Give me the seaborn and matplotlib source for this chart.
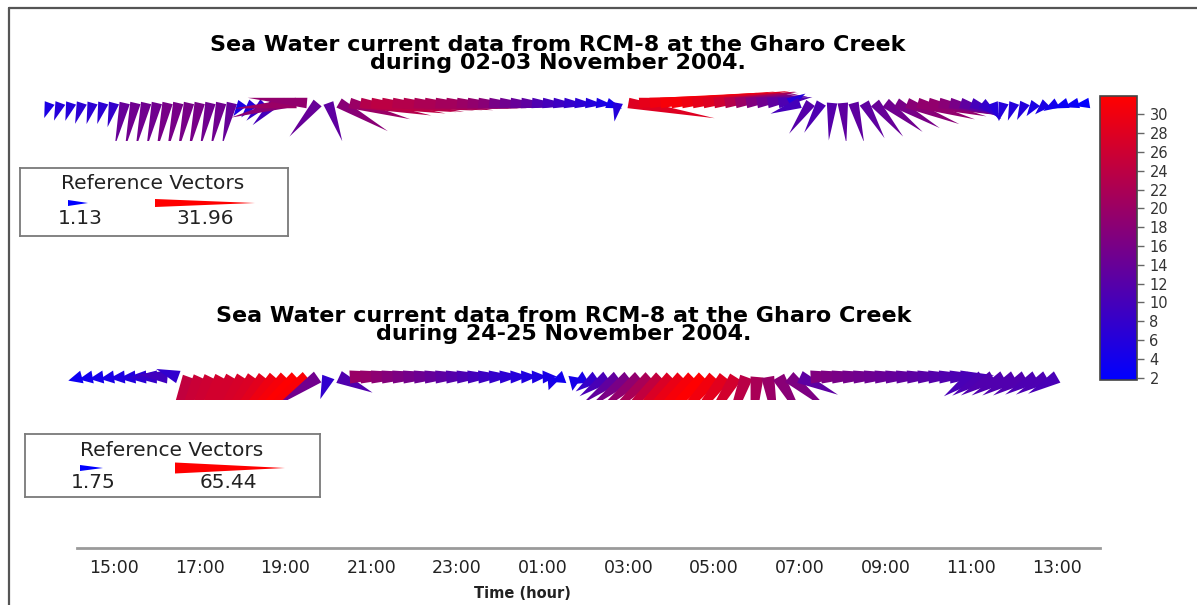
import numpy as np
import matplotlib
matplotlib.use("Agg")
import matplotlib.pyplot as plt
import seaborn as sns
from matplotlib.collections import PolyCollection
from matplotlib.transforms import IdentityTransform
from matplotlib.colors import Normalize
from matplotlib.lines import Line2D
from matplotlib.cm import ScalarMappable

# ---------------- data ----------------
step_h = 0.25                      # 15-minute sampling
top_start_h = 13.5                 # first sample, 02 Nov
bot_start_h = 14.25                # first sample, 24 Nov

top_speed = [5, 6, 6, 7, 7, 7, 8, 14, 15, 15, 15, 16, 16, 16, 16, 15, 15, 14,
             5, 6, 8, 10, 18, 20, 19, 14, 13, 18, 20, 23, 24, 24, 23, 23, 22, 22,
             21, 21, 20, 19, 18, 16, 15, 14, 13, 11, 10, 9, 8, 7, 6, 5, 4, 6,
             28, 29, 30, 31, 31, 30, 29, 28, 26, 23, 20, 17, 15, 13, 11, 6, 10, 12,
             11, 12, 13, 13, 13, 14, 15, 16, 18, 19, 19, 18, 16, 13, 10, 8, 6,
             6, 6, 6, 5, 5, 4, 3, 3, 2]
top_dir = [200, 200, 198, 198, 196, 196, 195, 193, 193, 193, 193, 193, 193, 193, 193, 193, 193, 193,
           215, 220, 225, 225, 255, 265, 275, 220, 160, 120, 105, 100, 98, 97, 97, 96, 96, 96,
           95, 95, 95, 95, 95, 95, 95, 95, 95, 95, 95, 95, 95, 95, 95, 96, 110, 190,
           100, 87, 85, 84, 84, 83, 83, 82, 82, 81, 80, 80, 80, 80, 80, 60, 250, 215,
           210, 185, 175, 165, 150, 140, 128, 120, 112, 106, 103, 102, 104, 108, 112, 130, 160,
           195, 200, 205, 215, 225, 240, 250, 255, 260]

bot_speed = [5, 6, 7, 8, 9, 10, 12, 15, 18, 14,
             50, 52, 53, 54, 54, 55, 56, 58, 61, 63, 65, 64, 30, 14, 22,
             40, 39, 37, 35, 33, 31, 29, 27, 25, 23, 21, 19, 17, 15, 13, 11, 10, 9, 8,
             8, 6, 7, 8, 15, 20, 26, 32, 38, 44, 50, 56, 60, 63, 65, 62, 58, 54,
             48, 44, 40, 36, 33, 25,
             34, 33, 32, 31, 30, 29, 28, 27, 26, 25, 24, 23, 22, 21, 20,
             20, 21, 22, 22, 22, 22, 21, 21, 20]
bot_dir = [255, 260, 262, 262, 265, 265, 268, 270, 275, 290,
           200, 204, 206, 208, 210, 212, 215, 218, 221, 224, 227, 230, 235, 200, 115,
           87, 87, 87, 87, 87, 87, 87, 87, 87, 87, 87, 87, 87, 87, 87, 88, 88, 88, 88,
           200, 250, 190, 240, 235, 235, 233, 232, 230, 228, 226, 225, 225, 225, 225, 222, 218, 212,
           200, 185, 170, 150, 130, 115,
           87, 87, 87, 87, 87, 87, 87, 87, 87, 87, 87, 87, 87, 87, 87,
           235, 238, 240, 240, 240, 240, 240, 240, 240]

ref_top = [1.13, 31.96]
ref_bot = [1.75, 65.44]
cbar_ticks = [2, 4, 6, 8, 10, 12, 14, 16, 18, 20, 22, 24, 26, 28, 30]
tick_hours = [15, 17, 19, 21, 23, 25, 27, 29, 31, 33, 35, 37]
tick_labels = ["15:00", "17:00", "19:00", "21:00", "23:00", "01:00",
               "03:00", "05:00", "07:00", "09:00", "11:00", "13:00"]
title_top = "Sea Water current data from RCM-8 at the Gharo Creek\nduring 02-03 November 2004."
title_bot = "Sea Water current data from RCM-8 at the Gharo Creek\nduring 24-25 November 2004."

# ---------------- style ----------------
sns.set_theme(style="white")
plt.rcParams['font.family'] = ['DejaVu Sans']
cmap = sns.blend_palette(["#0000ff", "#ff0000"], as_cmap=True)
norm_top = Normalize(1.75, 31.96)
norm_bot = Normalize(1.75, 65.44)

W, H = 1197, 605
fig = plt.figure(figsize=(W / 100, H / 100), dpi=100)
fig.patch.set_facecolor("white")

PX0, PXH = 114.0, 42.87   # pixel of 15:00 and pixels per hour


def t_of_px(px):
    return 15 + (px - PX0) / PXH


def ax_px(x0, y0, x1, y1):
    return fig.add_axes([x0 / W, 1 - y1 / H, (x1 - x0) / W, (y1 - y0) / H])


def wedges(ax, xs, ys, speed, direc, scale, width, norm, min_len):
    sp = np.asarray(speed, float)
    d = np.radians(np.asarray(direc, float))
    L = np.maximum(sp * scale, min_len)
    dx, dy = L * np.sin(d), L * np.cos(d)
    nx, ny = -dy / L, dx / L
    hw = width / 2.0
    verts = [[(hw * nx[i], hw * ny[i]), (dx[i], dy[i]), (-hw * nx[i], -hw * ny[i])]
             for i in range(len(sp))]
    pc = PolyCollection(verts, offsets=np.column_stack([xs, ys]),
                        offset_transform=ax.transData, transform=IdentityTransform(),
                        facecolors=cmap(norm(sp)), edgecolors="none", antialiased=True)
    ax.add_collection(pc)


# ---------------- series panels ----------------
SC_TOP, SC_BOT = 3.13, 1.68

ax1 = ax_px(20, 85, 1100, 141)
ax1.set_xlim(t_of_px(20), t_of_px(1100))
ax1.set_ylim(-38, 18)
ax1.axis("off")
t1 = top_start_h + step_h * np.arange(len(top_speed))
wedges(ax1, t1, np.zeros(len(t1)), top_speed, top_dir, SC_TOP, 10.5, norm_top, 16)

ax2 = ax_px(20, 360, 1100, 400)
ax2.set_xlim(t_of_px(20), t_of_px(1100))
ax2.set_ylim(-23, 17)
ax2.axis("off")
t2 = bot_start_h + step_h * np.arange(len(bot_speed))
wedges(ax2, t2, np.zeros(len(t2)), bot_speed, bot_dir, SC_BOT, 13, norm_bot, 14)

# ---------------- titles ----------------
fig.text(558 / W, 1 - 54 / H, title_top, ha="center", va="center", ma="center",
         fontsize=16, fontweight="bold", color="black", linespacing=0.86)
fig.text(564 / W, 1 - 325 / H, title_bot, ha="center", va="center", ma="center",
         fontsize=16, fontweight="bold", color="black", linespacing=0.86)

# ---------------- reference vector boxes ----------------
def ref_box(box, title_xy, refs, base_pts, label_pts, scale, widths, norm, min_len):
    x0, y0, x1, y1 = box
    ax = ax_px(x0, y0, x1, y1)
    ax.set_xlim(x0, x1)
    ax.set_ylim(y1, y0)
    ax.set_xticks([])
    ax.set_yticks([])
    for s in ax.spines.values():
        s.set_color("#7a7a7a")
        s.set_linewidth(1.3)
    ax.text(title_xy[0], title_xy[1], "Reference Vectors", ha="center", va="center",
            fontsize=14.5, color="#222222")
    for r, bp, lp, w in zip(refs, base_pts, label_pts, widths):
        wedges(ax, [bp[0]], [bp[1]], [r], [90], scale, w, norm, min_len)
        ax.text(lp[0], lp[1], f"{r:.2f}", ha="center", va="center",
                fontsize=14.5, color="#222222")


ref_box((20, 168, 288, 236), (153, 184), ref_top, [(68, 203), (155, 203)],
        [(80, 219), (205, 219)], SC_TOP, [6, 8], norm_top, 20)
ref_box((25, 434, 320, 497), (172, 450), ref_bot, [(80, 468), (175, 468)],
        [(93, 483), (228, 483)], SC_BOT, [6, 11], norm_bot, 23)

# ---------------- time axis ----------------
axt = ax_px(77, 500, 1100, 548)
axt.patch.set_visible(False)
axt.set_xlim(t_of_px(77), t_of_px(1100))
axt.set_yticks([])
for k in ["top", "left", "right"]:
    axt.spines[k].set_visible(False)
axt.spines["bottom"].set_color("#9a9a9a")
axt.spines["bottom"].set_linewidth(2)
axt.set_xticks(tick_hours)
axt.set_xticklabels(tick_labels, fontsize=12.5, color="#222222")
axt.tick_params(axis="x", length=0, pad=8)
fig.text(522 / W, 1 - 593 / H, "Time (hour)", ha="center", va="center",
         fontsize=10.5, fontweight="bold", color="#222222")

# ---------------- colorbar ----------------
cax = ax_px(1100, 96, 1137, 380)
sm = ScalarMappable(norm=norm_top, cmap=cmap)
cb = fig.colorbar(sm, cax=cax, ticks=cbar_ticks)
cb.outline.set_edgecolor("#444444")
cb.outline.set_linewidth(1.2)
cax.tick_params(axis="y", length=5, width=1, color="#666666", labelsize=10.5,
                labelcolor="#333333", pad=4)

# ---------------- frame lines ----------------
fig.add_artist(Line2D([9 / W, 9 / W], [0, 1 - 8 / H], transform=fig.transFigure,
                      color="#555555", lw=1.6))
fig.add_artist(Line2D([9 / W, 1], [1 - 8 / H, 1 - 8 / H], transform=fig.transFigure,
                      color="#555555", lw=1.6))

fig.savefig("out.png", dpi=100)
